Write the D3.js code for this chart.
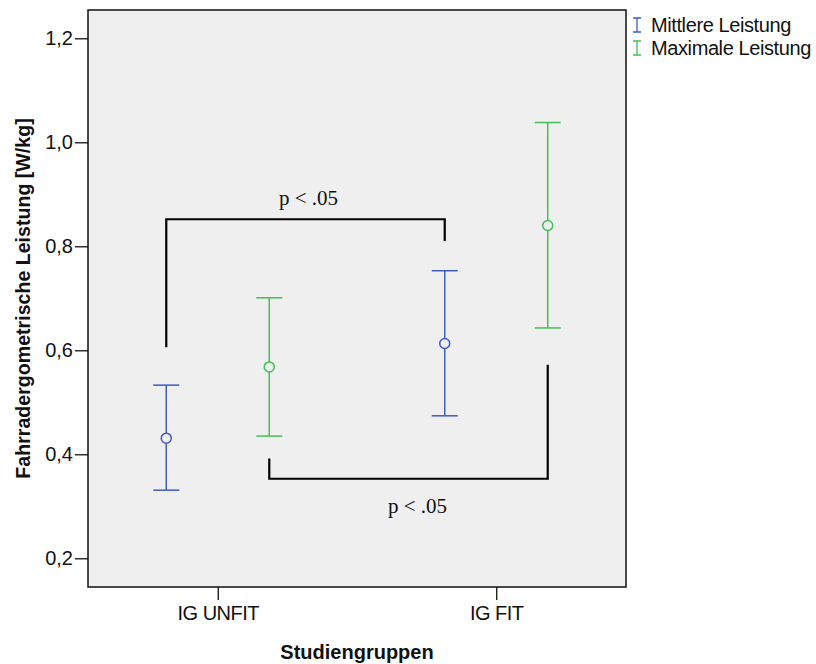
<!DOCTYPE html>
<html>
<head>
<meta charset="utf-8">
<title>Fahrradergometrische Leistung</title>
<script src="https://cdn.jsdelivr.net/npm/d3@7"></script>
<style>
body { margin: 0; background: #fff; }
svg { font-family: Arial, "Liberation Sans", sans-serif; }
</style>
</head>
<body>
<svg id="chart" width="816" height="664"></svg>
<script>
// groups and series
var groups = ['IG UNFIT', 'IG FIT'];
var series = ['Mittlere Leistung', 'Maximale Leistung'];
var colors = ['#3f5bbd', '#45bf55'];

// means and error bar bounds, per series, per group
var means = [[0.431, 0.613], [0.568, 0.840]];
var lower = [[0.331, 0.474], [0.435, 0.643]];
var upper = [[0.533, 0.753], [0.701, 1.038]];

var yTicks = [0.2, 0.4, 0.6, 0.8, 1.0, 1.2];

// significance brackets: [group, series, y start] -> bar at yBar -> [group, series, y end]
var brackets = [
  { from: [0, 0, 0.606], to: [1, 0, 0.810], bar: 0.852, label: 'p < .05', labelY: 0.880 },
  { from: [0, 1, 0.392], to: [1, 1, 0.572], bar: 0.353, label: 'p < .05', labelY: 0.288 }
];

var svg = d3.select('#chart');
// plot frame (avoid the name "top", window.top is read only)
var plotL = 88, plotR = 626, plotT = 10, plotB = 587;

var x = d3.scalePoint().domain(groups).range([plotL, plotR]).padding(0.466);
var offset = d3.scalePoint().domain(series).range([-51.5, 51.5]);
var y = d3.scaleLinear().domain([0.1448, 1.2544]).range([plotB, plotT]);

function px(g, s) { return x(groups[g]) + offset(series[s]); }

svg.append('rect')
  .attr('x', plotL).attr('y', plotT)
  .attr('width', plotR - plotL).attr('height', plotB - plotT)
  .attr('fill', '#efefef').attr('stroke', '#111').attr('stroke-width', 1.5);

// y axis
var yAxis = svg.append('g').attr('transform', 'translate(' + plotL + ',0)')
  .call(d3.axisLeft(y).tickValues(yTicks).tickSize(13).tickPadding(2)
    .tickFormat(function(d) { return d3.format('.1f')(d).replace('.', ','); }));
yAxis.select('.domain').remove();
yAxis.selectAll('line').attr('stroke', '#111').attr('stroke-width', 1.3);
yAxis.selectAll('text').attr('font-size', 20).attr('fill', '#111')
  .attr('font-family', 'Arial, "Liberation Sans", sans-serif');

// x axis
var xAxis = svg.append('g').attr('transform', 'translate(0,' + plotB + ')')
  .call(d3.axisBottom(x).tickSize(13).tickPadding(6));
xAxis.select('.domain').remove();
xAxis.selectAll('line').attr('stroke', '#111').attr('stroke-width', 1.3);
xAxis.selectAll('text').attr('font-size', 20).attr('fill', '#111')
  .attr('letter-spacing', -0.5)
  .attr('font-family', 'Arial, "Liberation Sans", sans-serif');

// axis titles
svg.append('text')
  .attr('x', (plotL + plotR) / 2).attr('y', 659)
  .attr('text-anchor', 'middle').attr('font-size', 20).attr('font-weight', 'bold')
  .attr('fill', '#111').text('Studiengruppen');

svg.append('text')
  .attr('transform', 'translate(29.5,' + (plotT + plotB) / 2 + ') rotate(-90)')
  .attr('text-anchor', 'middle').attr('font-size', 19.6).attr('font-weight', 'bold')
  .attr('fill', '#111').text('Fahrradergometrische Leistung [W/kg]');

// error bars
series.forEach(function(s, si) {
  var g = svg.append('g').attr('stroke', colors[si]).attr('stroke-width', 1.5).attr('fill', 'none');
  groups.forEach(function(grp, gi) {
    var cx = px(gi, si);
    g.append('line').attr('x1', cx).attr('x2', cx)
      .attr('y1', y(upper[si][gi])).attr('y2', y(lower[si][gi]));
    [upper[si][gi], lower[si][gi]].forEach(function(v) {
      g.append('line').attr('x1', cx - 13).attr('x2', cx + 13)
        .attr('y1', y(v)).attr('y2', y(v));
    });
    g.append('circle').attr('cx', cx).attr('cy', y(means[si][gi])).attr('r', 5)
      .attr('fill', '#efefef');
  });
});

// brackets
brackets.forEach(function(b) {
  var x1 = px(b.from[0], b.from[1]), x2 = px(b.to[0], b.to[1]);
  svg.append('path')
    .attr('d', 'M' + x1 + ',' + y(b.from[2]) + 'V' + y(b.bar) + 'H' + x2 + 'V' + y(b.to[2]))
    .attr('fill', 'none').attr('stroke', '#000').attr('stroke-width', 2.2);
  svg.append('text')
    .attr('x', (x1 + x2) / 2 + (b.bar > b.from[2] ? 3 : 9)).attr('y', y(b.labelY))
    .attr('text-anchor', 'middle').attr('font-family', '"Liberation Serif", "Times New Roman", serif')
    .attr('font-size', 21).attr('fill', '#111').text(b.label);
});

// legend
var legend = svg.append('g');
series.forEach(function(s, i) {
  var ly = 25 + i * 23;
  legend.append('path')
    .attr('d', 'M633,' + (ly - 7) + 'H641M637,' + (ly - 7) + 'V' + (ly + 7) + 'M633,' + (ly + 7) + 'H641')
    .attr('stroke', colors[i]).attr('stroke-width', 1.3).attr('fill', 'none');
  legend.append('text').attr('x', 651).attr('y', ly + 7)
    .attr('font-size', 20).attr('fill', '#111').attr('letter-spacing', -0.4).text(s);
});
</script>
</body>
</html>
